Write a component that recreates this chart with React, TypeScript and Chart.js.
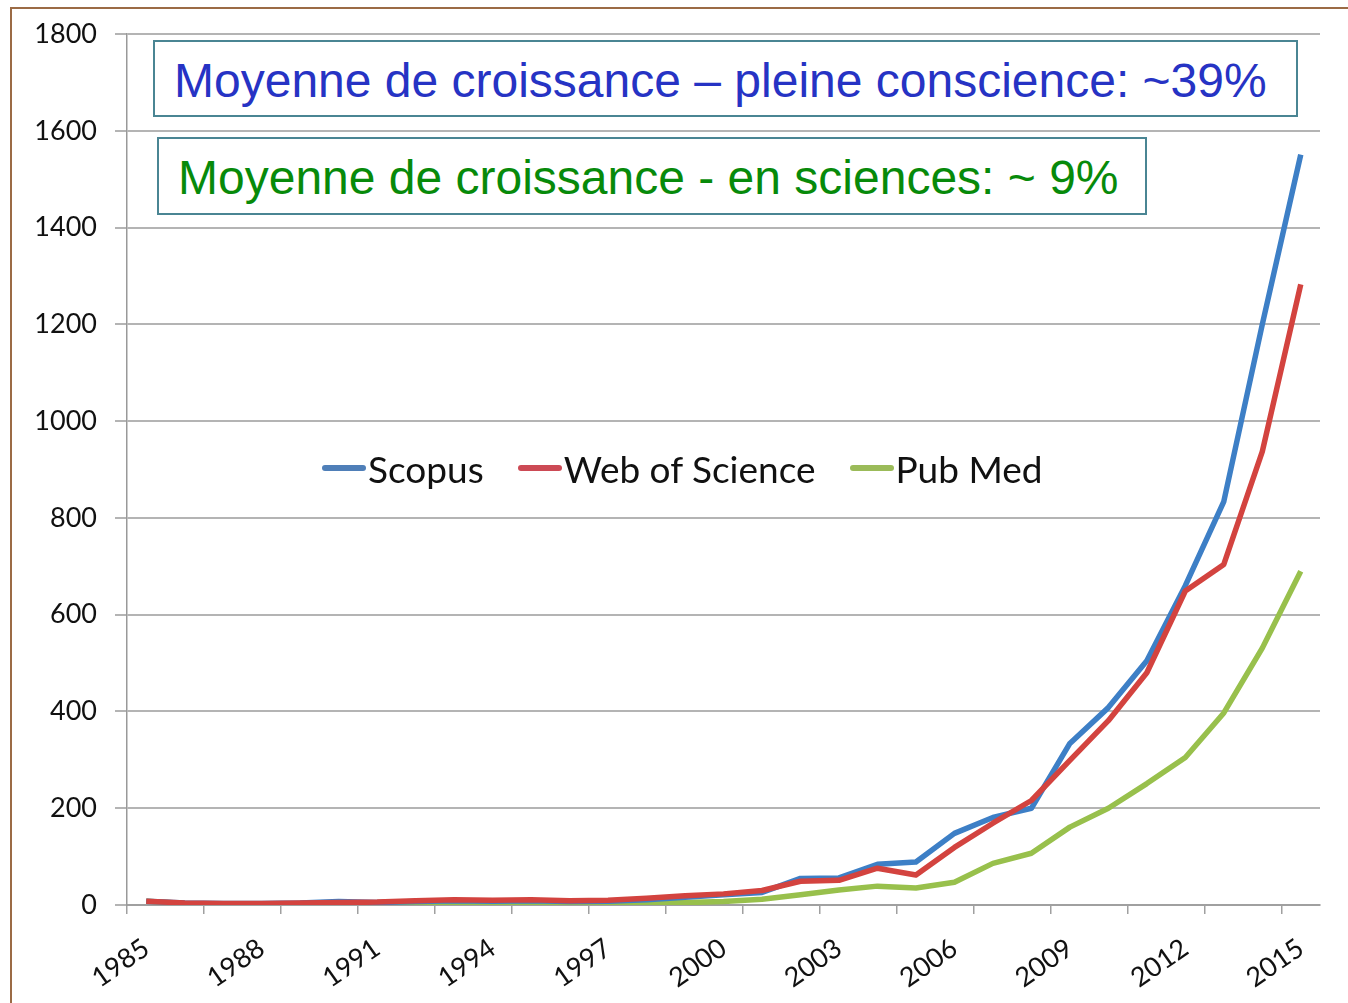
import React, { useEffect, useRef } from "react";
import { Chart, registerables } from "chart.js";

Chart.register(...registerables);

const years = [
  1985, 1986, 1987, 1988, 1989, 1990, 1991, 1992, 1993, 1994, 1995, 1996, 1997, 1998, 1999, 2000,
  2001, 2002, 2003, 2004, 2005, 2006, 2007, 2008, 2009, 2010, 2011, 2012, 2013, 2014, 2015,
];
const scopus = [
  8, 4, 3, 3, 4, 7, 5, 7, 9, 8, 9, 7, 8, 11, 16, 21,
  26, 55, 56, 84, 89, 148, 181, 200, 334, 408, 505, 660, 834, 1200, 1551,
];
const webOfScience = [
  8, 4, 3, 3, 4, 5, 6, 9, 11, 10, 11, 9, 10, 14, 19, 23,
  30, 49, 51, 76, 62, 119, 169, 216, 299, 381, 480, 649, 704, 937, 1283,
];
const pubMed = [
  8, 3, 2, 2, 2, 2, 2, 3, 3, 3, 3, 3, 3, 4, 5, 7,
  12, 21, 31, 39, 35, 47, 86, 107, 161, 200, 251, 305, 397, 531, 690,
];
const seriesNames = ["Scopus", "Web of Science", "Pub Med"];
const seriesColors = ["#3d7fc6", "#d3433f", "#98c04c"];
const legendColors = ["#4f7fb8", "#cc4a55", "#9bbb59"];
const xLabelYears = [1985, 1988, 1991, 1994, 1997, 2000, 2003, 2006, 2009, 2012, 2015];
const xMarkTicks = [
  1984.5, 1986.5, 1988.5, 1990.5, 1992.5, 1994.5, 1996.5, 1998.5, 2000.5, 2002.5, 2004.5,
  2006.5, 2008.5, 2010.5, 2012.5, 2014.5,
];
const yTicks = [0, 200, 400, 600, 800, 1000, 1200, 1400, 1600, 1800];
const note1 = "Moyenne de croissance \u2013 pleine conscience: ~39%";
const note2 = "Moyenne de croissance - en sciences: ~ 9%";

export default function App() {
  const ref = useRef<HTMLCanvasElement | null>(null);

  useEffect(() => {
    if (!ref.current) return;
    const allSeries = [scopus, webOfScience, pubMed];
    const tickVals = [...xLabelYears, ...xMarkTicks].sort((a, b) => a - b);
    const chart = new Chart(ref.current, {
      type: "line",
      data: {
        datasets: allSeries.map((vals, i) => ({
          label: seriesNames[i],
          data: vals.map((v, j) => ({ x: years[j], y: v })),
          borderColor: seriesColors[i],
          backgroundColor: seriesColors[i],
          borderWidth: 5.5,
          pointRadius: 0,
          tension: 0,
          borderJoinStyle: "round" as const,
          order: i === 2 ? 3 : i === 1 ? 1 : 2,
        })),
      },
      options: {
        animation: false,
        responsive: false,
        layout: { padding: { top: 28, right: 28, left: 0, bottom: 0 } },
        plugins: { legend: { display: false }, tooltip: { enabled: false } },
        scales: {
          x: {
            type: "linear",
            min: 1984.5,
            max: 2015.5,
            afterBuildTicks: (s: any) => {
              s.ticks = tickVals.map((v) => ({ value: v }));
            },
            afterFit: (s: any) => {
              s.height = 98;
            },
            ticks: {
              autoSkip: false,
              minRotation: 35,
              maxRotation: 35,
              padding: 18,
              color: "#111",
              font: { family: "Lato", size: 27 },
              callback: (v: any) => (xLabelYears.includes(Number(v)) ? String(v) : ""),
            },
            grid: {
              drawOnChartArea: false,
              tickLength: 9,
              lineWidth: 1.5,
              color: (ctx: any) =>
                ctx.tick && xLabelYears.includes(ctx.tick.value) ? "rgba(0,0,0,0)" : "#a0a0a0",
            },
            border: { color: "#a0a0a0", width: 2 },
          },
          y: {
            min: 0,
            max: 1800,
            afterBuildTicks: (s: any) => {
              s.ticks = yTicks.map((v) => ({ value: v }));
            },
            afterFit: (s: any) => {
              s.width = 127;
            },
            ticks: {
              padding: 18,
              color: "#111",
              font: { family: "Lato", size: 27 },
              callback: (v: any) => String(v),
            },
            grid: { color: "#b4b4b4", lineWidth: 2, tickLength: 12 },
            border: { color: "#999", width: 1.5 },
          },
        },
      },
    });
    return () => chart.destroy();
  }, []);

  const boxBase: React.CSSProperties = {
    position: "absolute",
    boxSizing: "border-box",
    border: "2px solid #4a8593",
    background: "#fff",
    display: "flex",
    alignItems: "center",
    fontFamily: "'Liberation Sans', Arial, sans-serif",
    fontSize: 48,
    whiteSpace: "nowrap",
  };

  return (
    <div style={{ position: "fixed", left: 0, top: 0, width: 1348, height: 1003, background: "#fff", overflow: "hidden" }}>
      <canvas ref={ref} width={1348} height={1003} style={{ position: "absolute", left: 0, top: 0, width: 1348, height: 1003 }} />
      <div
        style={{
          position: "absolute",
          left: 10,
          top: 7,
          right: 0,
          bottom: 0,
          borderLeft: "2px solid #9b6b45",
          borderTop: "2px solid #9b6b45",
          pointerEvents: "none",
        }}
      />
      <div style={{ ...boxBase, left: 153, top: 40, width: 1145, height: 77, color: "#2633c4", paddingLeft: 19, paddingTop: 3 }}>
        {note1}
      </div>
      <div style={{ ...boxBase, left: 157, top: 137, width: 990, height: 78, color: "#078a0a", paddingLeft: 19, paddingTop: 3 }}>
        {note2}
      </div>
      <div
        style={{
          position: "absolute",
          left: 322,
          top: 446,
          height: 44,
          display: "flex",
          alignItems: "center",
          fontFamily: "Lato, sans-serif",
          fontSize: 37,
          color: "#111",
          whiteSpace: "nowrap",
        }}
      >
        {seriesNames.map((n, i) => (
          <div key={n} style={{ display: "flex", alignItems: "center", marginRight: 34 }}>
            <span style={{ display: "inline-block", width: 44, height: 6, borderRadius: 3, background: legendColors[i], marginRight: 2 }} />
            <span>{n}</span>
          </div>
        ))}
      </div>
    </div>
  );
}
